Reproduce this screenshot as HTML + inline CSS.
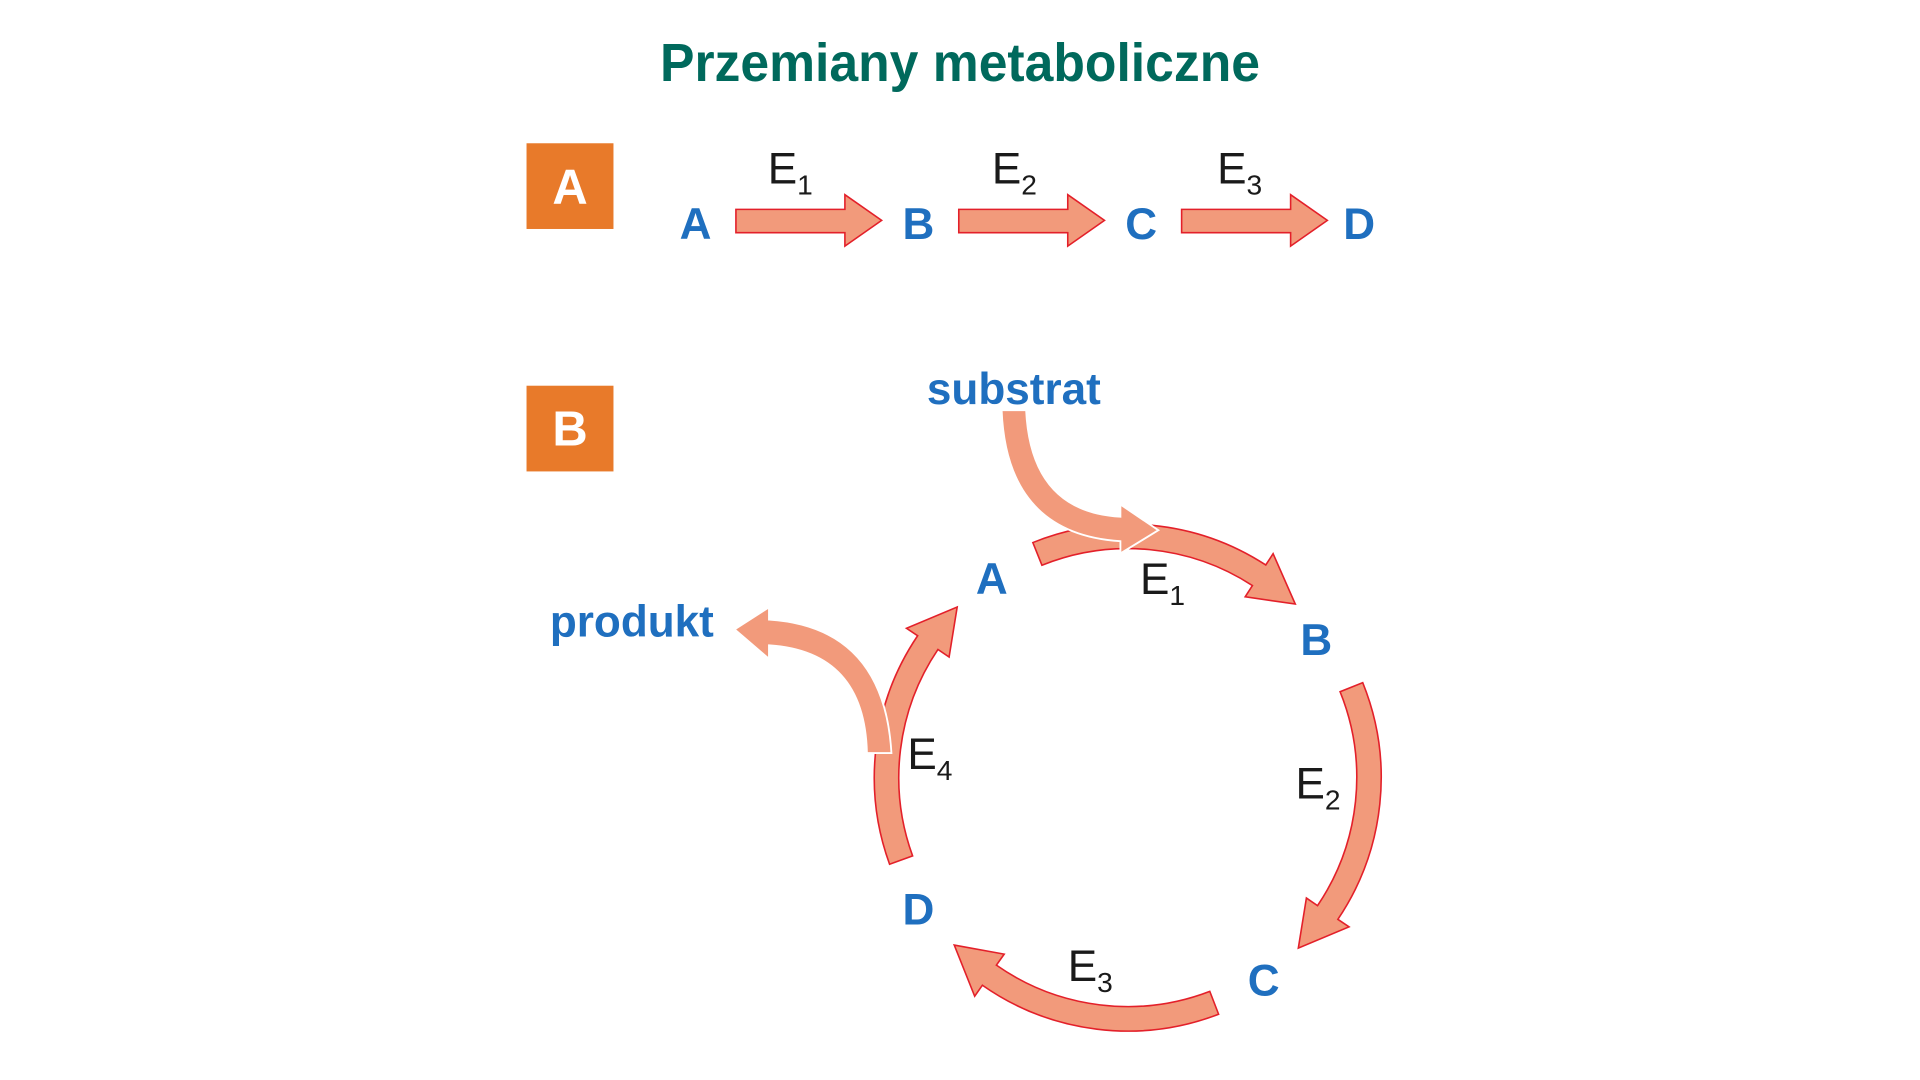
<!DOCTYPE html>
<html><head><meta charset="utf-8">
<style>
html,body{margin:0;padding:0;background:#fff;width:1920px;height:1080px;overflow:hidden}
svg{display:block}
.n{font-family:"Liberation Sans Narrow","Liberation Sans",sans-serif;font-weight:bold;fill:#1f6fbf;font-size:36px}
.e{font-family:"Liberation Sans Narrow","Liberation Sans",sans-serif;fill:#1a1a1a;font-size:36px}
.s{font-size:23px}
.arr{fill:#f29a7b;stroke:#e3202a;stroke-width:1.3}
</style></head><body>
<svg id="s" width="1920" height="1080" viewBox="0 0 1568 882" xmlns="http://www.w3.org/2000/svg">
<text x="784" y="66" text-anchor="middle" textLength="490" lengthAdjust="spacingAndGlyphs" style="font-family:'Liberation Sans Narrow','Liberation Sans',sans-serif;font-weight:bold;font-size:44px;fill:#00695c">Przemiany metaboliczne</text>
<rect x="430" y="117" width="71" height="70" fill="#e87a2a"/>
<text x="465.5" y="166" text-anchor="middle" style="font-family:'Liberation Sans Narrow','Liberation Sans',sans-serif;font-weight:bold;font-size:40px;fill:#fff">A</text>
<rect x="430" y="315" width="71" height="70" fill="#e87a2a"/>
<text x="465.5" y="364" text-anchor="middle" style="font-family:'Liberation Sans Narrow','Liberation Sans',sans-serif;font-weight:bold;font-size:40px;fill:#fff">B</text>

<text class="n" x="568" y="195" text-anchor="middle">A</text>
<text class="n" x="750" y="195" text-anchor="middle">B</text>
<text class="n" x="932" y="195" text-anchor="middle">C</text>
<text class="n" x="1110" y="195" text-anchor="middle">D</text>
<polygon class="arr" points="601,171 690,171 690,159 720,180 690,201 690,190 601,190"/>
<polygon class="arr" points="783,171 872,171 872,159 902,180 872,201 872,190 783,190"/>
<polygon class="arr" points="965,171 1054,171 1054,159 1084,180 1054,201 1054,190 965,190"/>
<text class="e" x="627" y="150">E<tspan class="s" dy="9">1</tspan></text>
<text class="e" x="810" y="150">E<tspan class="s" dy="9">2</tspan></text>
<text class="e" x="994" y="150">E<tspan class="s" dy="9">3</tspan></text>

<g id="arcs"></g>

<text class="n" x="828" y="330" text-anchor="middle">substrat</text>
<text class="n" x="516" y="520" text-anchor="middle">produkt</text>
<text class="n" x="810" y="485" text-anchor="middle">A</text>
<text class="n" x="1075" y="535" text-anchor="middle">B</text>
<text class="n" x="1032" y="813" text-anchor="middle">C</text>
<text class="n" x="750" y="755" text-anchor="middle">D</text>
<text class="e" x="931" y="485">E<tspan class="s" dy="9">1</tspan></text>
<text class="e" x="1058" y="652">E<tspan class="s" dy="9">2</tspan></text>
<text class="e" x="872" y="801">E<tspan class="s" dy="9">3</tspan></text>
<text class="e" x="741" y="628">E<tspan class="s" dy="9">4</tspan></text>
</svg>
<script>
var g=document.getElementById('arcs'),NS="http://www.w3.org/2000/svg";
var cx=921,cy=635,R=197,w=10,hw=21,ha=11;
function P(a,r){var t=a*Math.PI/180;return (cx+r*Math.cos(t)).toFixed(1)+','+(cy+r*Math.sin(t)).toFixed(1);}
function arc(a0,a1){
  var b=a1-ha,d=[];
  d.push('M'+P(a0,R+w));
  d.push('A'+(R+w)+','+(R+w)+' 0 0 1 '+P(b,R+w));
  d.push('L'+P(b,R+hw));d.push('L'+P(a1,R));d.push('L'+P(b,R-hw));d.push('L'+P(b,R-w));
  d.push('A'+(R-w)+','+(R-w)+' 0 0 0 '+P(a0,R-w));d.push('Z');
  var p=document.createElementNS(NS,'path');p.setAttribute('d',d.join(' '));p.setAttribute('class','arr');g.appendChild(p);
}
arc(-112,-46);arc(-22,45);arc(69,136);arc(160,225);
function add(d){var p=document.createElementNS(NS,'path');p.setAttribute('d',d);p.setAttribute('fill','#f29a7b');p.setAttribute('stroke','#fff');p.setAttribute('stroke-width','1.5');g.appendChild(p);}
add('M818,335 L838,335 Q842,418 915,422 L915,412 L946,433 L915,452 L915,442 Q822,436 818,335 Z');
add('M708,615 L728,615 Q722,512 628,506 L628,496 L600,514 L628,538 L628,527 Q706,532 708,615 Z');
</script>
</body></html>
